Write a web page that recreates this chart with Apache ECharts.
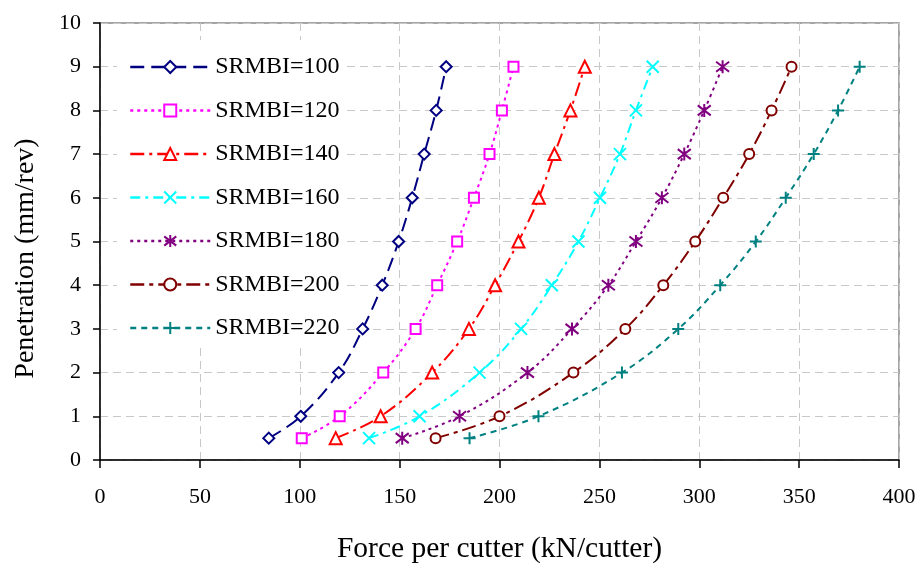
<!DOCTYPE html>
<html>
<head>
<meta charset="utf-8">
<script src="https://cdn.jsdelivr.net/npm/echarts@6/dist/echarts.min.js"></script>
<style>
  html, body { margin: 0; padding: 0; background: #fff; }
  #chart { width: 920px; height: 569px; }
</style>
</head>
<body>
<div id="chart"></div>
<script>
// Penetration levels (mm/rev) shared by every curve
const penetration = [0.5, 1, 2, 3, 4, 5, 6, 7, 8, 9];

// Force per cutter (kN/cutter) for each SRMBI class
const force100 = [84.5, 100.5, 119.5, 131.5, 141.3, 149.5, 156.3, 162.3, 168.3, 173.3];
const force120 = [101, 120, 141.8, 158, 168.8, 178.8, 187.2, 195, 201.2, 207];
const force140 = [118, 140.5, 166.3, 184.7, 197.8, 209.5, 219.7, 227.5, 235.5, 242.7];
const force160 = [134.7, 160, 190, 210.8, 226.2, 239.5, 250.3, 260.3, 268.3, 276.7];
const force180 = [151.3, 180, 214, 236.3, 254.5, 268.3, 281.3, 292.5, 302.5, 311.7];
const force200 = [168, 200, 237, 263, 282, 298, 312, 325, 336.2, 346.2];
const force220 = [185, 219.5, 261.3, 289.5, 310.5, 328.3, 343.3, 357.3, 369.5, 380.3];

const seriesNames = ['SRMBI=100', 'SRMBI=120', 'SRMBI=140', 'SRMBI=160', 'SRMBI=180', 'SRMBI=200', 'SRMBI=220'];
const forces = [force100, force120, force140, force160, force180, force200, force220];

const xTicks = [0, 50, 100, 150, 200, 250, 300, 350, 400];
const yTicks = [0, 1, 2, 3, 4, 5, 6, 7, 8, 9, 10];

const FONT = '"Liberation Serif", "Times New Roman", serif';

const styles = [
  { color: '#000080', dash: [14, 7], symbol: 'diamond', size: 11, hollow: true },
  { color: '#FF00FF', dash: [3, 4], symbol: 'rect', size: 10, hollow: true },
  { color: '#FF0000', dash: [14, 5, 3, 5], symbol: 'triangle', size: 12, hollow: true },
  { color: '#00FFFF', dash: [10, 5, 3, 5], symbol: 'path://M0,0L10,10M10,0L0,10', size: 12, hollow: false },
  { color: '#800080', dash: [3, 4], symbol: 'path://M0,0L10,10M10,0L0,10M5,-1.5L5,11.5', size: 13, hollow: false },
  { color: '#800000', dash: [14, 5, 4, 5], symbol: 'circle', size: 10, hollow: true },
  { color: '#008080', dash: [6, 5], symbol: 'path://M5,0L5,10M0,5L10,5', size: 12, hollow: false }
];

const series = seriesNames.map((name, i) => {
  const s = styles[i];
  return {
    name: name,
    type: 'line',
    smooth: 0.4,
    data: forces[i].map((f, k) => [f, penetration[k]]),
    symbol: s.symbol,
    symbolSize: s.size,
    showAllSymbol: true,
    lineStyle: { color: s.color, width: 2, type: s.dash },
    itemStyle: {
      color: s.hollow ? '#ffffff' : s.color,
      borderColor: s.color,
      borderWidth: 2
    },
    emphasis: { disabled: true },
    z: 3
  };
});

const chart = echarts.init(document.getElementById('chart'), null, { renderer: 'canvas' });
chart.setOption({
  animation: false,
  backgroundColor: '#ffffff',
  textStyle: { fontFamily: FONT },
  grid: {
    left: 100, right: 21, top: 23, bottom: 109,
    show: true,
    borderColor: '#888888',
    borderWidth: 1.5,
    backgroundColor: 'transparent'
  },
  legend: {
    orient: 'vertical',
    left: 117,
    top: 40,
    padding: [15, 6, 8, 12],
    backgroundColor: '#ffffff',
    itemWidth: 80,
    itemHeight: 15,
    itemGap: 19.5,
    data: seriesNames,
    lineStyle: { width: 2.5 },
    textStyle: { fontFamily: FONT, fontSize: 24, color: '#000', lineHeight: 24 },
    z: 4
  },
  xAxis: {
    type: 'value',
    min: xTicks[0],
    max: xTicks[xTicks.length - 1],
    interval: 50,
    name: 'Force per cutter (kN/cutter)',
    nameLocation: 'middle',
    nameGap: 74,
    nameTextStyle: { fontFamily: FONT, fontSize: 29.5, color: '#000' },
    axisLine: { show: true, lineStyle: { color: '#000', width: 1.5 } },
    axisTick: { show: true, inside: false, length: 8, lineStyle: { color: '#000', width: 1.5 } },
    axisLabel: { fontFamily: FONT, fontSize: 22, color: '#000', margin: 26 },
    splitLine: { show: true, lineStyle: { color: '#c8c8c8', width: 1, type: [8, 5] } }
  },
  yAxis: {
    type: 'value',
    min: yTicks[0],
    max: yTicks[yTicks.length - 1],
    interval: 1,
    name: 'Penetration (mm/rev)',
    nameLocation: 'middle',
    nameGap: 60,
    nameTextStyle: { fontFamily: FONT, fontSize: 28, color: '#000', padding: [0, 34, 0, 0] },
    axisLine: { show: true, lineStyle: { color: '#000', width: 1.5 } },
    axisTick: { show: true, inside: false, length: 7, lineStyle: { color: '#000', width: 1.5 } },
    axisLabel: { fontFamily: FONT, fontSize: 22, color: '#000', margin: 19 },
    splitLine: { show: true, lineStyle: { color: '#c8c8c8', width: 1, type: [8, 5] } }
  },
  series: series
});
</script>
</body>
</html>
